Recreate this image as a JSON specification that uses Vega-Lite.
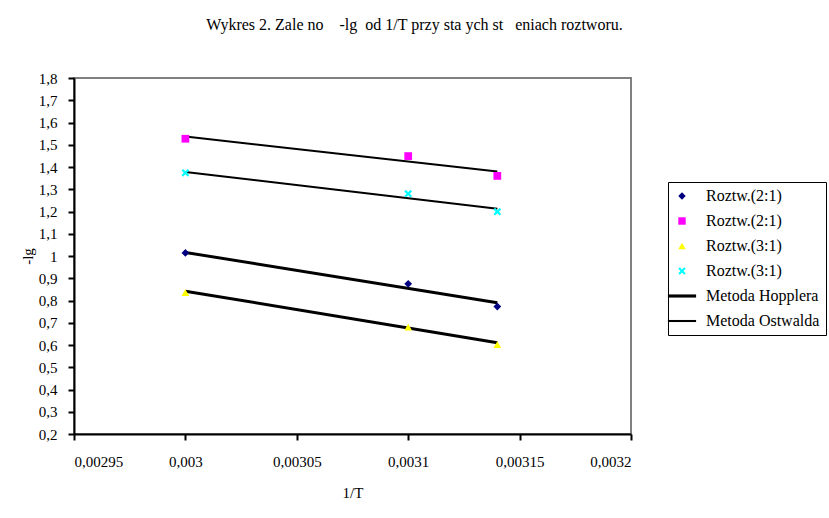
{
  "$schema": "https://vega.github.io/schema/vega-lite/v6.json",
  "width": 557,
  "height": 356,
  "autosize": {"type": "none"},
  "padding": {"left": 74, "top": 78, "right": 198, "bottom": 84},
  "background": "white",
  "title": {
    "text": "Wykres 2. Zale\u00a0no\u00a0\u00a0\u00a0\u00a0-lg\u00a0\u00a0od 1/T przy sta\u00a0ych st\u00a0\u00a0\u00a0eniach roztworu.",
    "anchor": "middle",
    "frame": "group",
    "dx": 62,
    "offset": 38,
    "font": "Liberation Serif, Times New Roman, serif",
    "fontSize": 16,
    "fontWeight": "normal",
    "color": "black"
  },
  "datasets": {
    "pts": [
      {"x": 0.003, "y": 1.014, "series": "Roztw.(2:1)|a"},
      {"x": 0.0031, "y": 0.875, "series": "Roztw.(2:1)|a"},
      {"x": 0.00314, "y": 0.773, "series": "Roztw.(2:1)|a"},
      {"x": 0.003, "y": 1.527, "series": "Roztw.(2:1)|b"},
      {"x": 0.0031, "y": 1.449, "series": "Roztw.(2:1)|b"},
      {"x": 0.00314, "y": 1.36, "series": "Roztw.(2:1)|b"},
      {"x": 0.003, "y": 0.835, "series": "Roztw.(3:1)|c"},
      {"x": 0.0031, "y": 0.68, "series": "Roztw.(3:1)|c"},
      {"x": 0.00314, "y": 0.602, "series": "Roztw.(3:1)|c"},
      {"x": 0.003, "y": 1.374, "series": "Roztw.(3:1)|d"},
      {"x": 0.0031, "y": 1.28, "series": "Roztw.(3:1)|d"},
      {"x": 0.00314, "y": 1.199, "series": "Roztw.(3:1)|d"}
    ],
    "lines": [
      {"method": "Metoda Hopplera", "line": "a", "x": 0.003, "y": 1.016},
      {"method": "Metoda Hopplera", "line": "a", "x": 0.00314, "y": 0.79},
      {"method": "Metoda Hopplera", "line": "c", "x": 0.003, "y": 0.842},
      {"method": "Metoda Hopplera", "line": "c", "x": 0.00314, "y": 0.61},
      {"method": "Metoda Ostwalda", "line": "b", "x": 0.003, "y": 1.537},
      {"method": "Metoda Ostwalda", "line": "b", "x": 0.00314, "y": 1.38},
      {"method": "Metoda Ostwalda", "line": "d", "x": 0.003, "y": 1.378},
      {"method": "Metoda Ostwalda", "line": "d", "x": 0.00314, "y": 1.212}
    ]
  },
  "encoding": {
    "x": {
      "field": "x",
      "type": "quantitative",
      "scale": {"domain": [0.00295, 0.0032], "nice": false, "zero": false},
      "axis": {
        "title": "1/T",
        "values": [0.00295, 0.003, 0.00305, 0.0031, 0.00315, 0.0032],
        "format": "~g",
        "labelOverlap": false,
        "labelPadding": 14,
        "titlePadding": 16
      }
    },
    "y": {
      "field": "y",
      "type": "quantitative",
      "scale": {"domain": [0.2, 1.8], "nice": false, "zero": false},
      "axis": {
        "title": "-lg",
        "values": [0.2, 0.3, 0.4, 0.5, 0.6, 0.7, 0.8, 0.9, 1, 1.1, 1.2, 1.3, 1.4, 1.5, 1.6, 1.7, 1.8],
        "format": "~g",
        "labelOverlap": false,
        "labelPadding": 11,
        "titlePadding": 3
      }
    }
  },
  "layer": [
    {
      "data": {"name": "lines"},
      "transform": [{"filter": "datum.method === 'Metoda Hopplera'"}],
      "mark": {"type": "line", "color": "black", "strokeWidth": 3, "clip": true},
      "encoding": {
        "detail": {"field": "line"}
      }
    },
    {
      "data": {"name": "lines"},
      "transform": [{"filter": "datum.method === 'Metoda Ostwalda'"}],
      "mark": {"type": "line", "color": "black", "strokeWidth": 2, "clip": true},
      "encoding": {
        "detail": {"field": "line"}
      }
    },
    {
      "data": {"name": "pts"},
      "mark": {"type": "point", "filled": true, "opacity": 1, "size": 60, "strokeWidth": 0},
      "encoding": {
        "color": {
          "field": "series",
          "type": "nominal",
          "scale": {
            "domain": ["Roztw.(2:1)|a", "Roztw.(2:1)|b", "Roztw.(3:1)|c", "Roztw.(3:1)|d", "Metoda Hopplera", "Metoda Ostwalda"],
            "range": ["#000080", "#FF00FF", "#FFFF00", "#00FFFF", "#000000", "#000000"]
          },
          "legend": {
            "title": null,
            "orient": "none",
            "legendX": 594,
            "legendY": 104,
            "labelExpr": "split(datum.value, '|')[0]",
            "labelFont": "Liberation Serif, Times New Roman, serif",
            "labelFontSize": 16,
            "labelColor": "black",
            "labelOffset": 16,
            "rowPadding": 9,
            "padding": 6,
            "strokeColor": "black",
            "fillColor": "white",
            "symbolSize": 55,
            "symbolStrokeWidth": 0,
            "symbolOpacity": 1
          }
        },
        "shape": {
          "field": "series",
          "type": "nominal",
          "scale": {
            "domain": ["Roztw.(2:1)|a", "Roztw.(2:1)|b", "Roztw.(3:1)|c", "Roztw.(3:1)|d", "Metoda Hopplera", "Metoda Ostwalda"],
            "range": [
              "diamond",
              "square",
              "triangle-up",
              "M-1,-0.6L-0.6,-1L0,-0.4L0.6,-1L1,-0.6L0.4,0L1,0.6L0.6,1L0,0.4L-0.6,1L-1,0.6L-0.4,0Z",
              "M-3.8,-0.42H3.8V0.42H-3.8Z",
              "M-3.8,-0.28H3.8V0.28H-3.8Z"
            ]
          }
        }
      }
    }
  ],
  "config": {
    "font": "Liberation Serif, Times New Roman, serif",
    "view": {"stroke": "#808080", "strokeWidth": 2},
    "axis": {
      "grid": false,
      "domainColor": "black",
      "domainWidth": 2,
      "tickColor": "black",
      "tickWidth": 2,
      "tickSize": 6,
      "labelColor": "black",
      "labelFont": "Liberation Serif, Times New Roman, serif",
      "labelFontSize": 15,
      "titleColor": "black",
      "titleFont": "Liberation Serif, Times New Roman, serif",
      "titleFontSize": 15,
      "titleFontWeight": "normal"
    },
    "locale": {
      "number": {"decimal": ",", "thousands": "\u00a0", "grouping": [3], "currency": ["", " zł"]}
    }
  }
}
